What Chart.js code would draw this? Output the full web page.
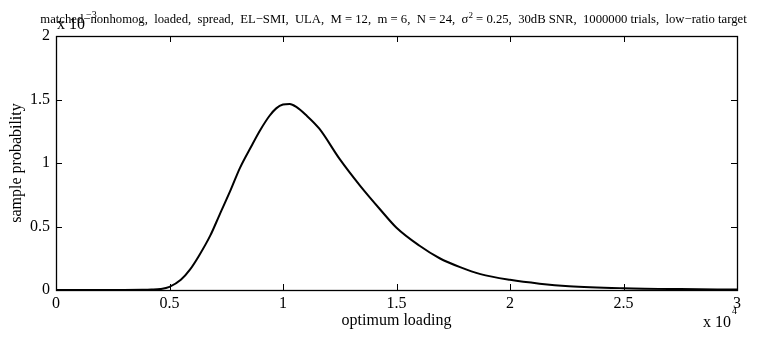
<!DOCTYPE html>
<html>
<head>
  <title>optimum loading</title>
  <script src="https://cdn.jsdelivr.net/npm/chart.js@4.4.1/dist/chart.umd.min.js"></script>
  <style>
    html, body { margin: 0; padding: 0; background: #fff; }
    #wrap { width: 757px; height: 337px; }
  </style>
</head>
<body>
<div id="wrap"><canvas id="myChart" width="757" height="337"></canvas></div>

<script>
// optimum loading, in units of 10^4
var loading = [0, 0.30, 0.38, 0.42, 0.46, 0.50, 0.55, 0.59, 0.63, 0.68, 0.72, 0.77, 0.81, 0.86, 0.90, 0.94,
               0.97, 1.00, 1.03, 1.06, 1.10, 1.16, 1.25, 1.34, 1.43, 1.50, 1.60, 1.69, 1.78, 1.87, 2.00,
               2.13, 2.26, 2.50, 2.75, 3.00];
// sample probability, in units of 10^-3
var probability = [0, 0, 0.001, 0.003, 0.008, 0.025, 0.08, 0.16, 0.27, 0.43, 0.59, 0.79, 0.96, 1.13, 1.26, 1.37,
                   1.43, 1.46, 1.465, 1.44, 1.38, 1.27, 1.03, 0.82, 0.63, 0.49, 0.35, 0.25, 0.18, 0.125, 0.08,
                   0.05, 0.03, 0.014, 0.007, 0.004];

var xTicks = [0, 0.5, 1, 1.5, 2, 2.5, 3];
var yTicks = [0, 0.5, 1, 1.5, 2];

var titleParts = [
  ["matched\u2212nonhomog,  loaded,  spread,  EL\u2212SMI,  ULA,  M = 12,  m = 6,  N = 24,  \u03c3", false],
  ["2", true],
  [" = 0.25,  30dB SNR,  1000000 trials,  low\u2212ratio target", false]
];

var serif = "'Liberation Serif', 'DejaVu Serif', serif";

var points = [];
for (var i = 0; i < loading.length; i++) {
  points.push({x: loading[i], y: probability[i]});
}

// matlab-style box, inward ticks, title and exponent labels
var matlabLook = {
  id: 'matlabLook',
  afterDraw: function(chart) {
    var ctx = chart.ctx;
    var a = chart.chartArea;
    var xs = chart.scales.x, ys = chart.scales.y;
    ctx.save();
    ctx.strokeStyle = '#000';
    ctx.lineWidth = 1;
    ctx.beginPath();
    xTicks.forEach(function(v) {
      var px = Math.round(xs.getPixelForValue(v)) + 0.5;
      ctx.moveTo(px, a.bottom); ctx.lineTo(px, a.bottom - 6);
      ctx.moveTo(px, a.top); ctx.lineTo(px, a.top + 6);
    });
    yTicks.forEach(function(v) {
      var py = Math.round(ys.getPixelForValue(v)) + 0.5;
      ctx.moveTo(a.left, py); ctx.lineTo(a.left + 6, py);
      ctx.moveTo(a.right, py); ctx.lineTo(a.right - 6, py);
    });
    ctx.stroke();
    ctx.lineWidth = 1.3;
    ctx.strokeRect(Math.round(a.left) + 0.5, Math.round(a.top) + 0.5,
                   Math.round(a.right - a.left), Math.round(a.bottom - a.top));

    // title
    ctx.fillStyle = '#000';
    ctx.textBaseline = 'alphabetic';
    ctx.textAlign = 'left';
    var total = 0;
    titleParts.forEach(function(p) {
      ctx.font = (p[1] ? '9px ' : '12.7px ') + serif;
      total += ctx.measureText(p[0]).width;
    });
    var tx = (a.left + a.right) / 2 - 3 - total / 2;
    titleParts.forEach(function(p) {
      ctx.font = (p[1] ? '9px ' : '12.7px ') + serif;
      ctx.fillText(p[0], tx, p[1] ? 18 : 23);
      tx += ctx.measureText(p[0]).width;
    });

    // exponent labels
    ctx.font = '16px ' + serif;
    ctx.fillText('x 10', 57, 29);
    var w = ctx.measureText('x 10').width;
    ctx.font = '10px ' + serif;
    ctx.fillText('\u22123', 57 + w + 1, 18);

    ctx.font = '16px ' + serif;
    ctx.fillText('x 10', 703, 327);
    w = ctx.measureText('x 10').width;
    ctx.font = '10px ' + serif;
    ctx.fillText('4', 703 + w + 1, 314);
    ctx.restore();
  }
};

var ctx = document.getElementById('myChart').getContext('2d');
var myChart = new Chart(ctx, {
  type: 'line',
  data: {
    datasets: [{
      label: 'sample probability',
      data: points,
      borderColor: '#000',
      borderWidth: 2,
      pointRadius: 0,
      cubicInterpolationMode: 'monotone',
      fill: false
    }]
  },
  options: {
    responsive: false,
    animation: false,
    layout: { padding: { top: 36, right: 20, bottom: 0, left: 0 } },
    plugins: { legend: { display: false }, tooltip: { enabled: false } },
    scales: {
      x: {
        type: 'linear', min: 0, max: 3,
        afterBuildTicks: function(s) { s.ticks = xTicks.map(function(v) { return {value: v}; }); },
        afterFit: function(s) { s.height = 47; },
        grid: { display: false, drawTicks: false },
        border: { display: false },
        ticks: { color: '#000', font: { family: serif, size: 16 }, padding: 4, maxRotation: 0,
                 callback: function(v) { return String(v); } },
        title: { display: true, text: 'optimum loading', color: '#000',
                 font: { family: serif, size: 16 }, padding: { top: 0, bottom: 7 } }
      },
      y: {
        type: 'linear', min: 0, max: 2,
        afterBuildTicks: function(s) { s.ticks = yTicks.map(function(v) { return {value: v}; }); },
        afterFit: function(s) { s.width = 56; },
        grid: { display: false, drawTicks: false },
        border: { display: false },
        ticks: { color: '#000', font: { family: serif, size: 16 }, padding: 6,
                 callback: function(v) { return String(v); } },
        title: { display: true, text: 'sample probability', color: '#000',
                 font: { family: serif, size: 16 }, padding: { top: 7, bottom: 0 } }
      }
    }
  },
  plugins: [matlabLook]
});
</script>
</body>
</html>
